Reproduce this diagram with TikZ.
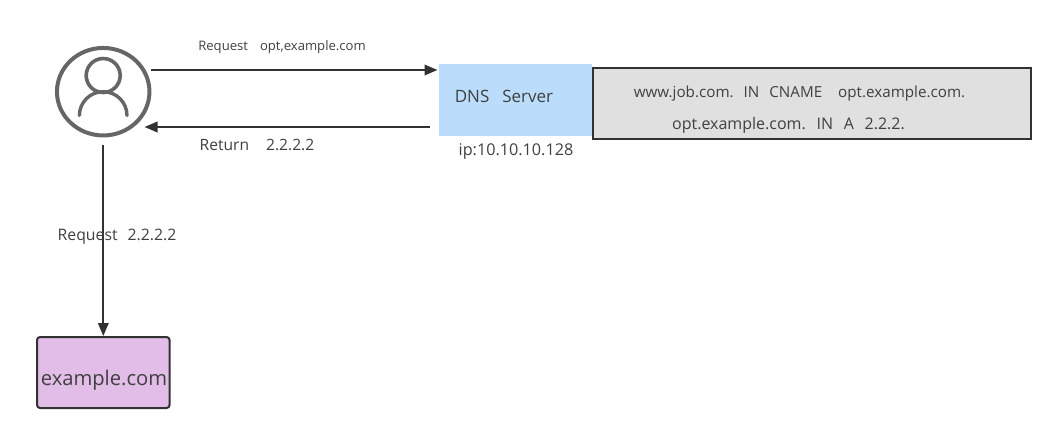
\documentclass[tikz,border=0pt]{standalone}
\usepackage{fontspec}
\setmainfont{Open Sans}
\usetikzlibrary{arrows.meta,shapes.geometric}
\definecolor{ink}{HTML}{323232}
\definecolor{txt}{HTML}{404040}
\definecolor{usr}{HTML}{666666}
\definecolor{dnsblue}{HTML}{B9DDFA}
\definecolor{recgray}{HTML}{E0E0E0}
\definecolor{sitepurple}{HTML}{E2BDE7}
\tikzset{
  x=1pt,y=-1pt,
  conn/.style={draw=ink,line width=2pt,-{Triangle[length=13pt,width=10.5pt]}},
  lbl/.style={text=txt,inner sep=0pt,anchor=base},
  icon/.style={draw=usr,line width=3.4pt,line cap=round},
}
\begin{document}
\begin{tikzpicture}
\useasboundingbox (0,0) rectangle (1056,432);
% user icon
\node[ellipse,draw=usr,line width=4pt,minimum width=92.5pt,minimum height=87.5pt,inner sep=0pt] (user) at (103.2,91.7) {};
\node[circle,draw=usr,line width=3.6pt,minimum size=34pt,inner sep=0pt] (head) at (103.2,75.5) {};
\draw[icon] (79.4,115.5) arc[start angle=180,delta angle=180,radius=23.8];
% boxes
\node[fill=dnsblue,minimum width=153pt,minimum height=72pt,inner sep=0pt] (dns) at (515.5,100) {};
\node[draw=ink,line width=2pt,fill=recgray,minimum width=438pt,minimum height=71pt,inner sep=0pt] (rec) at (812,103.5) {};
\node[draw=ink,line width=2pt,fill=sitepurple,rounded corners=3pt,minimum width=132.5pt,minimum height=71pt,inner sep=0pt] (site) at (103.3,372.5) {};
% connector ends
\coordinate (a1) at (151,70);
\coordinate (a2) at (437.5,70);
\coordinate (b1) at (430,127);
\coordinate (b2) at (144.5,127);
\coordinate (c1) at (103.3,145);
% connectors
\draw[conn] (a1) -- (a2);
\draw[conn] (b1) -- (b2);
\draw[conn] (c1) -- (site.north);
% labels
\node[lbl,font=\fontsize{13.1}{15}\selectfont] (l1) at (282,50) {Request\hspace{12pt}opt,example.com};
\node[lbl,font=\fontsize{15.6}{18}\selectfont] (l2) at (257,150) {Return\hspace{17pt}2.2.2.2};
\node[lbl,font=\fontsize{15.8}{18}\selectfont] (l3) at (117,240.5) {Request\hspace{10pt}2.2.2.2};
\node[lbl,font=\fontsize{17}{20}\selectfont] (l4) at (504,102.5) {DNS\hspace{13pt}Server};
\node[lbl,font=\fontsize{16.2}{19}\selectfont] (l5) at (516,155.5) {ip:10.10.10.128};
\node[lbl,font=\fontsize{15.2}{18}\selectfont] (l6) at (799.5,97) {www.job.com.\hspace{10pt}IN\hspace{10pt}CNAME\hspace{16pt}opt.example.com.};
\node[lbl,font=\fontsize{16}{19}\selectfont] (l7) at (788.5,129.5) {opt.example.com.\hspace{10.7pt}IN\hspace{10.7pt}A\hspace{10.7pt}2.2.2.};
\node[lbl,font=\fontsize{20.2}{24}\selectfont] (l8) at (104,385) {example.com};
\end{tikzpicture}
\end{document}
